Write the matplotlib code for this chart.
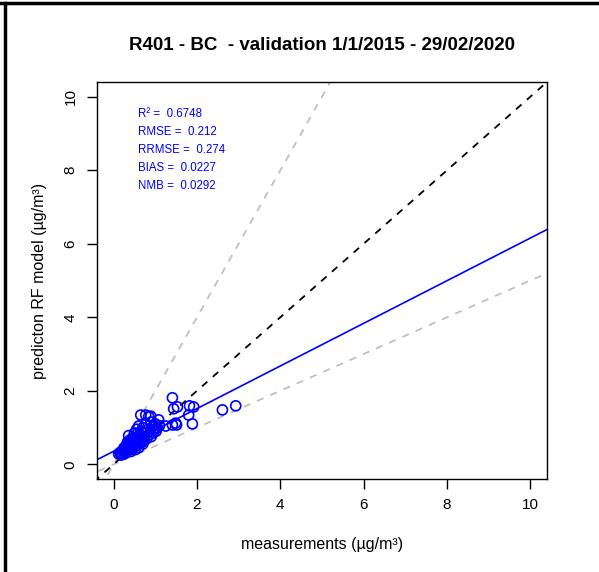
import numpy as np
import matplotlib
matplotlib.use("Agg")
import matplotlib.pyplot as plt
from matplotlib.lines import Line2D

plt.rcParams["font.family"] = ["Liberation Sans", "DejaVu Sans"]

################################################################################
## Data
################################################################################

measured = [0.12, 0.15, 0.17, 0.18, 0.20, 0.22, 0.24, 0.25, 0.25, 0.28,
            0.30, 0.30, 0.32, 0.33, 0.35, 0.36, 0.38, 0.40, 0.40, 0.42,
            0.43, 0.45, 0.45, 0.47, 0.48, 0.50, 0.50, 0.52, 0.53, 0.55,
            0.55, 0.57, 0.58, 0.60, 0.60, 0.62, 0.63, 0.65, 0.66, 0.68,
            0.70, 0.70, 0.72, 0.74, 0.75, 0.77, 0.78, 0.80, 0.82, 0.84,
            0.85, 0.88, 0.89, 0.90, 0.90, 0.92, 0.95, 0.96, 0.98, 1.00,
            1.02, 1.05, 1.08, 1.10, 1.25, 1.41, 1.41, 1.44, 1.49, 1.51,
            1.53, 1.80, 1.82, 1.89, 1.92, 2.61, 2.93, 0.35, 0.45, 0.58,
            0.62, 0.27, 0.38, 0.50, 0.68]
predicted = [0.28, 0.32, 0.30, 0.25, 0.30, 0.38, 0.36, 0.28, 0.45, 0.35,
             0.50, 0.32, 0.42, 0.60, 0.38, 0.78, 0.48, 0.55, 0.40, 0.35,
             0.65, 0.50, 0.72, 0.45, 0.60, 0.85, 0.55, 0.40, 0.68, 0.50,
             0.95, 0.75, 0.62, 1.04, 0.45, 0.80, 0.58, 1.34, 0.70, 0.90,
             0.55, 1.00, 0.75, 0.65, 0.85, 1.34, 1.10, 0.70, 0.95, 1.30,
             0.80, 0.90, 1.31, 1.15, 0.75, 1.00, 0.85, 1.04, 0.95, 1.10,
             0.90, 0.99, 1.21, 1.05, 1.04, 1.81, 1.07, 1.51, 1.12, 1.07,
             1.56, 1.34, 1.59, 1.10, 1.56, 1.48, 1.59, 0.55, 0.62, 0.85,
             0.70, 0.42, 0.65, 0.72, 0.60]

fit_intercept = 0.355
fit_slope = 0.58

stat_names = ["R\u00b2", "RMSE", "RRMSE", "BIAS", "NMB"]
stat_values = ["0.6748", "0.212", "0.274", "0.0227", "0.0292"]

axis_ticks = [0, 2, 4, 6, 8, 10]

################################################################################
## Plot
################################################################################

fig = plt.figure(figsize=(5.99, 5.72), dpi=100)
ax = fig.add_axes([0.1619, 0.1626, 0.7513, 0.694])

ax.set_xlim(-0.4, 10.4)
ax.set_ylim(-0.4, 10.4)

xx = np.array([-1, 12])
ax.plot(xx, 2 * xx, color="#c0c0c0", linestyle=(0, (4, 4)), linewidth=1.3)
ax.plot(xx, 0.5 * xx, color="#c0c0c0", linestyle=(0, (4, 4)), linewidth=1.3)
ax.plot(xx, xx, color="black", linestyle=(0, (4, 4)), linewidth=1.3)
ax.plot(xx, fit_intercept + fit_slope * xx, color="blue", linewidth=1.2)

ax.scatter(measured, predicted, s=52, facecolors="none", edgecolors="blue",
           linewidths=1.2, zorder=3)

for i, (name, val) in enumerate(zip(stat_names, stat_values)):
    ax.text(0.58, 9.53 - i * 0.49, f"{name} =  {val}", color="blue",
            fontsize=8.3, ha="left", va="center")

ax.set_xticks(axis_ticks)
ax.set_yticks(axis_ticks)
ax.tick_params(direction="out", length=7, width=1, labelsize=11, pad=7)
plt.setp(ax.get_yticklabels(), rotation=90, va="center")
for sp in ax.spines.values():
    sp.set_linewidth(1)

ax.set_xlabel("measurements (\u00b5g/m\u00b3)", fontsize=11.5, labelpad=18)
ax.set_ylabel("predicton RF model (\u00b5g/m\u00b3)", fontsize=11.5, labelpad=12)
fig.text(0.537, 0.921, "R401 - BC  - validation 1/1/2015 - 29/02/2020",
         fontsize=13.5, fontweight="bold", ha="center", va="center")

## Outer frame of the screenshot (top and left only)
fig.add_artist(Line2D([0, 1], [0.995, 0.995], color="black", linewidth=2.5,
                      transform=fig.transFigure))
fig.add_artist(Line2D([0.009, 0.009], [0, 0.995], color="black", linewidth=2.5,
                      transform=fig.transFigure))

fig.savefig("out.png", dpi=100)
